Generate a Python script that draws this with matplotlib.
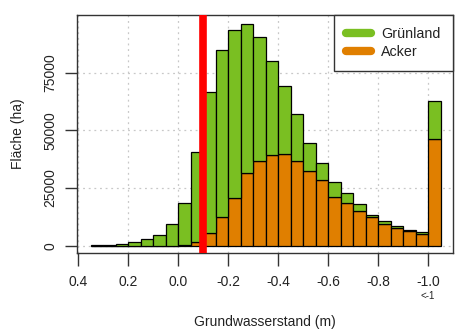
import numpy as np
import matplotlib
matplotlib.use("Agg")
import matplotlib.pyplot as plt
from matplotlib.lines import Line2D

plt.rcParams['font.family'] = ['Liberation Sans', 'DejaVu Sans']

# bin edges (upper end of each 5 cm class, axis runs from wet to dry)
bin_upper = [0.35, 0.30, 0.25, 0.20, 0.15, 0.10, 0.05, 0.00, -0.05, -0.10,
             -0.15, -0.20, -0.25, -0.30, -0.35, -0.40, -0.45, -0.50, -0.55, -0.60,
             -0.65, -0.70, -0.75, -0.80, -0.85, -0.90, -0.95, -1.00]
bin_width = 0.05

# area per class (ha)
gesamt = [150, 300, 600, 1400, 2700, 4600, 9300, 18400, 40800, 66400,
          84900, 93600, 96200, 90400, 79900, 69400, 57200, 44400, 35700, 27800,
          22700, 18100, 13300, 10700, 8700, 6800, 5800, 62500]
acker = [0, 0, 0, 0, 0, 0, 0, 200, 1700, 5600,
         12600, 20600, 31700, 36800, 39400, 39700, 36500, 32400, 28500, 21300,
         18400, 15100, 12600, 9400, 7800, 6400, 4900, 46300]
gruenland = [g - a for g, a in zip(gesamt, acker)]

x_ticks = [0.4, 0.2, 0.0, -0.2, -0.4, -0.6, -0.8, -1.0]
x_ticklabels = ['0.4', '0.2', '0.0', '-0.2', '-0.4', '-0.6', '-0.8', '-1.0']
y_ticks = [0, 25000, 50000, 75000]
grenzwert = -0.1

col_gruen = '#7abf22'
col_acker = '#e07f00'
col_text = '#222222'

fig = plt.figure(figsize=(4.55, 3.31), dpi=100)
ax = fig.add_axes([0.169, 0.2356, 0.8266, 0.7191])

centers = np.array(bin_upper) - bin_width / 2

# grid below bars
for xt in x_ticks:
    ax.axvline(xt, color='#c8c8c8', lw=0.9, ls=(0, (1.5, 3)), zorder=0)
for yt in y_ticks:
    ax.axhline(yt, color='#c8c8c8', lw=0.9, ls=(0, (1.5, 3)), zorder=0)

ax.bar(centers, acker, width=bin_width, color=col_acker, edgecolor='black', lw=0.9, zorder=2)
ax.bar(centers, gruenland, width=bin_width, bottom=acker, color=col_gruen,
       edgecolor='black', lw=0.9, zorder=2)

ax.axvline(grenzwert, color='red', lw=5.5, zorder=3)

ax.set_xlim(0.405, -1.1)
ax.set_ylim(-3200, 100000)

ax.set_xticks(x_ticks)
ax.set_xticklabels(x_ticklabels)
ax.set_yticks(y_ticks)
ax.set_yticklabels([str(v) for v in y_ticks], rotation=90, va='center')
ax.tick_params(axis='x', length=9, width=1, pad=6.5, labelsize=10, colors='#333333',
               labelcolor=col_text)
ax.tick_params(axis='y', length=9, width=1, pad=5, labelsize=10, colors='#333333',
               labelcolor=col_text)
for s in ax.spines.values():
    s.set_color('#333333')
    s.set_linewidth(1.0)

ax.text(-1.0, -0.181, '<-1', transform=ax.get_xaxis_transform(), ha='center', va='center',
        fontsize=7, color=col_text)

ax.set_xlabel('Grundwasserstand (m)', fontsize=10, color=col_text, labelpad=19)
ax.set_ylabel('Fläche (ha)', fontsize=10, color=col_text, labelpad=13)

handles = [Line2D([], [], color=col_gruen, lw=6, solid_capstyle='round'),
           Line2D([], [], color=col_acker, lw=6, solid_capstyle='round')]
leg = ax.legend(handles, ['Grünland', 'Acker'], loc='upper right', borderaxespad=0,
                fontsize=10.3, handlelength=1.75, handletextpad=0.75,
                labelspacing=0.25, fancybox=False, framealpha=1, borderpad=0.85)
leg.get_frame().set_edgecolor('#333333')
leg.get_frame().set_linewidth(1.0)
for t in leg.get_texts():
    t.set_color(col_text)

fig.savefig('out.png', dpi=100)
